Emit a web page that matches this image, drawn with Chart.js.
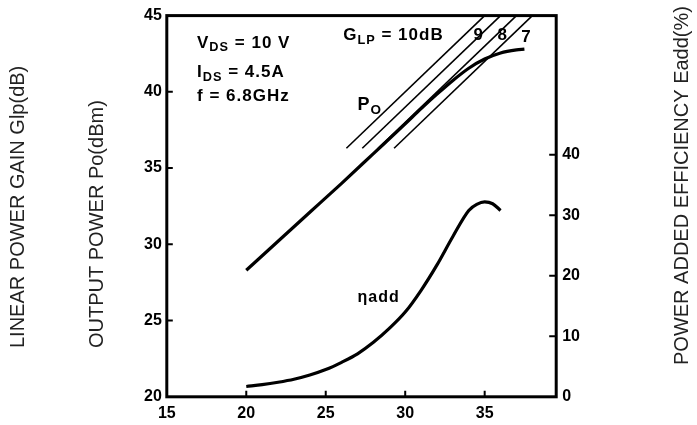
<!DOCTYPE html>
<html>
<head>
<meta charset="utf-8">
<script src="https://cdn.jsdelivr.net/npm/chart.js@4.4.1/dist/chart.umd.min.js"></script>
<style>
  html, body { margin: 0; padding: 0; background: #fff; }
</style>
</head>
<body>
<canvas id="chart" width="697" height="425"></canvas>
<script>
// input power (dBm) and output power Po (dBm)
const pinPo = [20, 22, 24, 26, 28, 30, 31, 32, 33, 34, 35, 36, 37, 37.5];
const po = [28.3, 30.2, 32.1, 34.0, 35.95, 37.9, 38.9, 39.85, 40.75, 41.55, 42.15, 42.55, 42.75, 42.8];

// power added efficiency (%)
const pinEff = [20, 21, 22, 23, 24, 25, 26, 27, 28, 29, 30, 31, 32, 33, 34, 34.5, 35, 35.5, 36];
const eff = [1.7, 2.0, 2.4, 2.9, 3.6, 4.5, 5.7, 7.1, 9.0, 11.3, 14.0, 17.6, 21.8, 26.5, 30.8, 31.8, 32.2, 31.9, 30.8];

// constant linear gain lines
const gainLabels = ["10", "9", "8", "7"];
const gainPinStart = [26.3, 27.3, 28.3, 29.3];
const gainPoStart = [36.3, 36.3, 36.3, 36.3];
const gainPinEnd = [35, 36, 37, 38];
const gainPoEnd = [45, 45, 45, 45];

// tick labels
const xTicks = [15, 20, 25, 30, 35];
const leftTicks = [20, 25, 30, 35, 40, 45];
const rightTicks = [0, 10, 20, 30, 40];

const ink = "#000";

const datasets = [
  {
    label: "Po",
    data: pinPo.map((x, i) => ({ x, y: po[i] })),
    yAxisID: "y",
    borderColor: ink,
    borderWidth: 3.2,
    pointRadius: 0,
    cubicInterpolationMode: "monotone"
  },
  {
    label: "eff",
    data: pinEff.map((x, i) => ({ x, y: eff[i] })),
    yAxisID: "y2",
    borderColor: ink,
    borderWidth: 3.2,
    pointRadius: 0,
    cubicInterpolationMode: "monotone"
  },
  ...gainLabels.map((g, i) => ({
    label: "G" + g,
    data: [
      { x: gainPinStart[i], y: gainPoStart[i] },
      { x: gainPinEnd[i], y: gainPoEnd[i] }
    ],
    yAxisID: "y",
    borderColor: ink,
    borderWidth: 1.6,
    pointRadius: 0
  }))
];

// draws text with subscript parts: [[text, isSub], ...]
function drawRich(ctx, parts, x, y, size) {
  let cx = x;
  parts.forEach(([t, sub]) => {
    const s = sub ? size * 0.75 : size;
    ctx.font = "bold " + s + "px 'Liberation Sans', Arial, sans-serif";
    ctx.fillText(t, cx, sub ? y + size * 0.22 : y);
    cx += ctx.measureText(t).width;
  });
}

const decorations = {
  id: "decorations",
  afterDatasetsDraw(chart) {
    const { ctx, chartArea: a, scales } = chart;
    const xs = scales.x, ys = scales.y, y2 = scales.y2;
    ctx.save();
    ctx.strokeStyle = ink;
    ctx.fillStyle = ink;

    // frame
    ctx.lineWidth = 3;
    ctx.strokeRect(a.left, a.top, a.right - a.left, a.bottom - a.top);

    // inward ticks
    ctx.lineWidth = 2;
    ctx.beginPath();
    leftTicks.slice(1, -1).forEach(v => {
      const p = ys.getPixelForValue(v);
      ctx.moveTo(a.left, p); ctx.lineTo(a.left + 6, p);
    });
    xTicks.slice(1).forEach(v => {
      const p = xs.getPixelForValue(v);
      ctx.moveTo(p, a.bottom); ctx.lineTo(p, a.bottom - 6);
    });
    rightTicks.slice(1).forEach(v => {
      const p = y2.getPixelForValue(v);
      ctx.moveTo(a.right, p); ctx.lineTo(a.right - 7, p);
    });
    ctx.stroke();

    // annotations
    ctx.textBaseline = "alphabetic";
    ctx.textAlign = "left";
    ctx.letterSpacing = "1px";
    const X = v => xs.getPixelForValue(v);
    const Y = v => ys.getPixelForValue(v);
    drawRich(ctx, [["V"], ["DS", true], [" = 10 V"]], X(16.9), Y(42.9), 17);
    drawRich(ctx, [["I"], ["DS", true], [" = 4.5A"]], X(16.9), Y(40.95), 17);
    drawRich(ctx, [["f = 6.8GHz"]], X(16.9), Y(39.4), 17);
    drawRich(ctx, [["G"], ["LP", true], [" = 10dB"]], X(26.1), Y(43.4), 17);
    drawRich(ctx, [["9"]], X(34.3), Y(43.4), 17);
    drawRich(ctx, [["8"]], X(35.8), Y(43.4), 17);
    drawRich(ctx, [["7"]], X(37.3), Y(43.3), 17);
    drawRich(ctx, [["P"], ["O", true]], X(27.0), Y(38.8), 18);
    drawRich(ctx, [["\u03b7add"]], X(27.0), y2.getPixelForValue(15.6), 16);

    // axis titles
    ctx.letterSpacing = "0px";
    ctx.font = "20px 'Liberation Sans', Arial, sans-serif";
    ctx.fillStyle = "#222";
    ctx.textBaseline = "middle";
    [["LINEAR POWER GAIN Glp(dB)", 18, 348], ["OUTPUT POWER Po(dBm)", 97, 348], ["POWER ADDED EFFICIENCY Eadd(%)", 682, 365]]
      .forEach(([t, x, y]) => {
        ctx.save();
        ctx.translate(x, y);
        ctx.rotate(-Math.PI / 2);
        ctx.fillText(t, 0, 0);
        ctx.restore();
      });
    ctx.restore();
  }
};

const tickFont = { family: "'Liberation Sans', Arial, sans-serif", size: 16, weight: "bold" };

new Chart(document.getElementById("chart"), {
  type: "line",
  data: { datasets },
  options: {
    responsive: false,
    animation: false,
    layout: { padding: { left: 139, right: 111, top: 1, bottom: -5 } },
    plugins: { legend: { display: false }, tooltip: { enabled: false } },
    scales: {
      x: {
        type: "linear",
        min: 15,
        max: 39.5,
        afterBuildTicks: s => { s.ticks = xTicks.map(v => ({ value: v })); },
        grid: { display: false, drawTicks: false },
        border: { display: false },
        ticks: { color: ink, font: tickFont, padding: 7 }
      },
      y: {
        position: "left",
        min: 20,
        max: 45,
        afterBuildTicks: s => { s.ticks = leftTicks.map(v => ({ value: v })); },
        grid: { display: false, drawTicks: false },
        border: { display: false },
        ticks: { color: ink, font: tickFont, padding: 5 }
      },
      y2: {
        position: "right",
        min: 0,
        max: 63,
        afterBuildTicks: s => { s.ticks = rightTicks.map(v => ({ value: v })); },
        grid: { display: false, drawTicks: false },
        border: { display: false },
        ticks: { color: ink, font: tickFont, padding: 6 }
      }
    }
  },
  plugins: [decorations]
});
</script>
</body>
</html>
